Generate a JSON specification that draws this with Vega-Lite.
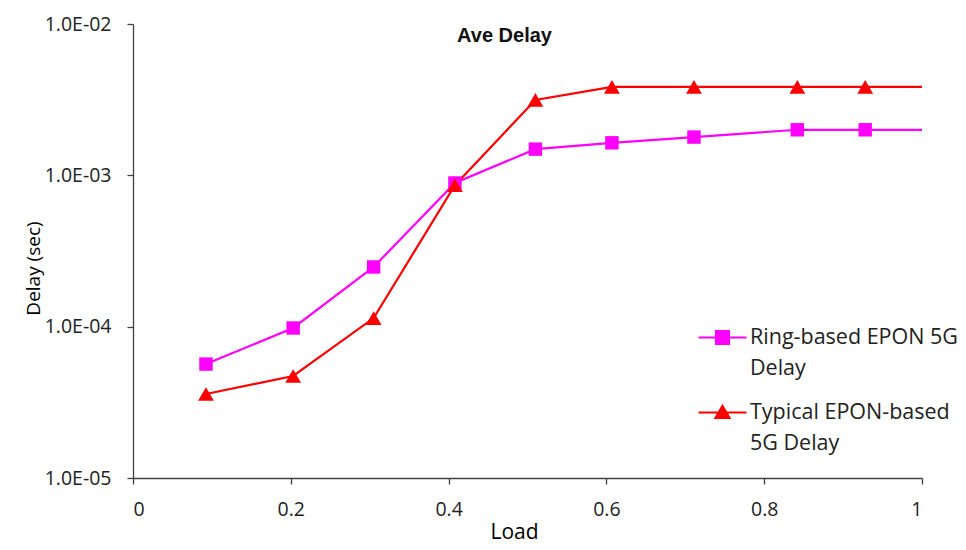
{
  "$schema": "https://vega.github.io/schema/vega-lite/v6.json",
  "width": 789,
  "height": 454,
  "autosize": {"type": "none"},
  "padding": {"left": 133, "top": 24, "right": 44, "bottom": 72},
  "background": "white",
  "title": {
    "text": "Ave Delay",
    "font": "Liberation Sans",
    "fontSize": 20,
    "fontWeight": "bold",
    "color": "#111111",
    "dx": -23,
    "offset": -32
  },
  "config": {
    "view": {"stroke": null},
    "axis": {
      "labelFont": "Open Sans",
      "labelFontSize": 19.5,
      "labelColor": "#222222",
      "titleFont": "Open Sans",
      "titleColor": "#000000",
      "titleFontWeight": "normal",
      "domainColor": "#404040",
      "tickColor": "#404040",
      "domainWidth": 1.3,
      "tickWidth": 1.3,
      "tickSize": 6,
      "grid": false
    }
  },
  "data": {
    "values": [
      {"load": 0.0925, "delay": 5.66e-5, "series": "Ring-based EPON 5G Delay"},
      {"load": 0.203, "delay": 9.8e-5, "series": "Ring-based EPON 5G Delay"},
      {"load": 0.305, "delay": 2.48e-4, "series": "Ring-based EPON 5G Delay"},
      {"load": 0.408, "delay": 8.9e-4, "series": "Ring-based EPON 5G Delay"},
      {"load": 0.51, "delay": 1.49e-3, "series": "Ring-based EPON 5G Delay"},
      {"load": 0.607, "delay": 1.64e-3, "series": "Ring-based EPON 5G Delay"},
      {"load": 0.711, "delay": 1.79e-3, "series": "Ring-based EPON 5G Delay"},
      {"load": 0.842, "delay": 2.0e-3, "series": "Ring-based EPON 5G Delay"},
      {"load": 0.928, "delay": 2.0e-3, "series": "Ring-based EPON 5G Delay"},
      {"load": 1.0, "delay": 2.0e-3, "series": "Ring-based EPON 5G Delay"},
      {"load": 0.0925, "delay": 3.59e-5, "series": "Typical EPON-based 5G Delay"},
      {"load": 0.203, "delay": 4.72e-5, "series": "Typical EPON-based 5G Delay"},
      {"load": 0.305, "delay": 1.14e-4, "series": "Typical EPON-based 5G Delay"},
      {"load": 0.408, "delay": 8.6e-4, "series": "Typical EPON-based 5G Delay"},
      {"load": 0.51, "delay": 3.15e-3, "series": "Typical EPON-based 5G Delay"},
      {"load": 0.607, "delay": 3.84e-3, "series": "Typical EPON-based 5G Delay"},
      {"load": 0.711, "delay": 3.84e-3, "series": "Typical EPON-based 5G Delay"},
      {"load": 0.842, "delay": 3.84e-3, "series": "Typical EPON-based 5G Delay"},
      {"load": 0.928, "delay": 3.84e-3, "series": "Typical EPON-based 5G Delay"},
      {"load": 1.0, "delay": 3.84e-3, "series": "Typical EPON-based 5G Delay"}
    ]
  },
  "encoding": {
    "x": {
      "field": "load",
      "type": "quantitative",
      "scale": {"domain": [0, 1], "nice": false, "zero": true},
      "axis": {
        "values": [0, 0.2, 0.4, 0.6, 0.8, 1],
        "format": ".1~f",
        "title": "Load",
        "titleFontSize": 21,
        "titleX": 381,
        "titleY": 43,
        "labelPadding": 16
      }
    },
    "y": {
      "field": "delay",
      "type": "quantitative",
      "scale": {"type": "log", "domain": [1e-5, 1e-2], "nice": false},
      "axis": {
        "values": [1e-5, 1e-4, 1e-3, 1e-2],
        "labelExpr": "'1.0E-0' + round(-log(datum.value)/LN10)",
        "title": "Delay (sec)",
        "titleFontSize": 19,
        "titleX": -90,
        "titleY": 244,
        "labelPadding": 16
      }
    },
    "color": {
      "field": "series",
      "type": "nominal",
      "scale": {
        "domain": ["Ring-based EPON 5G Delay", "Typical EPON-based 5G Delay"],
        "range": ["#FF00FF", "#FF0000"]
      },
      "legend": {
        "title": null,
        "orient": "none",
        "legendX": 564,
        "legendY": 288,
        "labelFont": "Open Sans",
        "labelFontSize": 21.5,
        "labelColor": "#222222",
        "labelLimit": 400,
        "labelOffset": 2,
        "rowPadding": 8,
        "symbolSize": 2304,
        "symbolStrokeWidth": 2.2,
        "labelExpr": "datum.value == 'Ring-based EPON 5G Delay' ? ['Ring-based EPON 5G', 'Delay'] : ['Typical EPON-based', '5G Delay']",
        "encode": {
          "symbols": {
            "update": {
              "shape": {"signal": "datum.value == 'Ring-based EPON 5G Delay' ? 'M-1,0H1M-0.27,-0.27H0.27V0.27H-0.27Z' : 'M-1,0H1M0,-0.27L0.29,0.22H-0.29Z'"},
              "stroke": {"signal": "datum.value == 'Ring-based EPON 5G Delay' ? '#FF00FF' : '#FF0000'"},
              "fill": {"signal": "datum.value == 'Ring-based EPON 5G Delay' ? '#FF00FF' : '#FF0000'"},
              "strokeWidth": {"value": 2.2},
              "opacity": {"value": 1}
            }
          },
          "labels": {
            "update": {"lineHeight": {"value": 31}}
          }
        }
      }
    }
  },
  "layer": [
    {
      "mark": {"type": "line", "strokeWidth": 2.2}
    },
    {
      "transform": [{"filter": "datum.load < 1 && datum.series == 'Ring-based EPON 5G Delay'"}],
      "mark": {"type": "point", "filled": true, "opacity": 1, "shape": "square", "size": 180}
    },
    {
      "transform": [{"filter": "datum.load < 1 && datum.series == 'Typical EPON-based 5G Delay'"}],
      "mark": {"type": "point", "filled": true, "opacity": 1, "shape": "triangle-up", "size": 250}
    }
  ]
}
